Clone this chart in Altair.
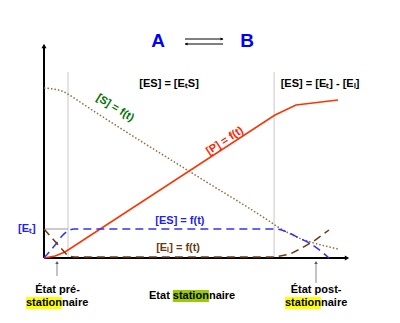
import altair as alt
import pandas as pd

# ---- curves (time in arbitrary units 0..102, concentration 0..107) ----
s_t = [0, 3, 6, 9, 12, 52, 74, 78, 85, 90, 98]
s_c = [85, 84.5, 83.5, 81, 78, 40, 19.5, 15.5, 10, 7.5, 4.5]

p_t = [0, 3.7, 7, 77, 84, 98]
p_c = [0, 1, 3, 71.5, 76.5, 79]

es_t = [0, 2, 4, 6, 8, 10, 77, 81, 85, 89, 95]
es_c = [0, 3.5, 7, 11, 13.5, 14.5, 14.5, 13, 10, 7, 0]

ei_t = [0, 8, 10, 77, 82, 86, 90, 95]
ei_c = [14.5, 1, 0.5, 0.5, 2, 5, 8.5, 14]

ET = 14.5          # total enzyme level
T_PRE = 8          # end of pre-steady state
T_POST = 76.7      # start of post-steady state
T_MAX = 102
C_MAX = 107.5

X_DOM = [-44 / 3, 356 / 3]
Y_DOM = [-32.5, 129]

xs = alt.Scale(domain=X_DOM, nice=False, zero=False)
ys = alt.Scale(domain=Y_DOM, nice=False, zero=False)


def df(**kw):
    return pd.DataFrame(kw)


def X(f="t"):
    return alt.X(f"{f}:Q", scale=xs, axis=None)


def Y(f="c"):
    return alt.Y(f"{f}:Q", scale=ys, axis=None)


FONT = "Liberation Sans"

layers = []

# grid-like vertical lines and E_t guide
layers.append(
    alt.Chart(df(t=[T_PRE, T_POST], c=[0, 0], c2=[93, 93]))
    .mark_rule(color="#c8c8c8", strokeWidth=1)
    .encode(x=X(), y=Y(), y2="c2:Q")
)
layers.append(
    alt.Chart(df(t=[0], t2=[T_PRE], c=[ET]))
    .mark_rule(color="#999999", strokeWidth=1)
    .encode(x=X(), x2="t2:Q", y=Y())
)

# axes
layers.append(
    alt.Chart(df(t=[0, 0], t2=[0, T_MAX - 1], c=[0, 0], c2=[C_MAX - 2, 0]))
    .mark_rule(color="black", strokeWidth=2)
    .encode(x=X(), x2="t2:Q", y=Y(), y2="c2:Q")
)
layers.append(
    alt.Chart(df(t=[0], c=[C_MAX - 1.5]))
    .mark_point(shape="triangle-up", filled=True, color="black", size=25, opacity=1)
    .encode(x=X(), y=Y())
)
layers.append(
    alt.Chart(df(t=[T_MAX - 1], c=[0]))
    .mark_point(shape="triangle-right", filled=True, color="black", size=25, opacity=1)
    .encode(x=X(), y=Y())
)

# curves
layers.append(
    alt.Chart(df(t=s_t, c=s_c))
    .mark_line(color="#9a6a3a", strokeWidth=1.5, strokeDash=[1.5, 2], interpolate="monotone")
    .encode(x=X(), y=Y())
)
layers.append(
    alt.Chart(df(t=p_t, c=p_c))
    .mark_line(color="#ff3300", strokeWidth=1.5)
    .encode(x=X(), y=Y())
)
layers.append(
    alt.Chart(df(t=es_t, c=es_c))
    .mark_line(color="#3333ee", strokeWidth=1.5, strokeDash=[8, 5], interpolate="monotone")
    .encode(x=X(), y=Y())
)
layers.append(
    alt.Chart(df(t=ei_t, c=ei_c))
    .mark_line(color="#6b3a10", strokeWidth=1.5, strokeDash=[8, 5])
    .encode(x=X(), y=Y())
)

# A <=> B
layers.append(
    alt.Chart(df(t=[38, 67.7], c=[108.5, 108.5], txt=["A", "B"]))
    .mark_text(font=FONT, fontSize=19, fontWeight="bold", color="#0000ff", baseline="middle")
    .encode(x=X(), y=Y(), text="txt:N")
)
layers.append(
    alt.Chart(df(t=[47, 47], t2=[59.7, 59.7], c=[109.5, 107]))
    .mark_rule(color="black", strokeWidth=1)
    .encode(x=X(), x2="t2:Q", y=Y())
)
layers.append(
    alt.Chart(df(t=[59.3], c=[109.5]))
    .mark_point(shape="triangle-right", filled=True, color="black", size=10, opacity=1)
    .encode(x=X(), y=Y())
)
layers.append(
    alt.Chart(df(t=[47.4], c=[107]))
    .mark_point(shape="triangle-left", filled=True, color="black", size=10, opacity=1)
    .encode(x=X(), y=Y())
)

# phase equations
layers.append(
    alt.Chart(df(t=[41.7, 92], c=[87, 87], txt=["[ES] = [E\u209cS]", "[ES] = [E\u209c] - [E\u2097]"]))
    .mark_text(font=FONT, fontSize=11, fontWeight="bold", color="black", baseline="middle")
    .encode(x=X(), y=Y(), text="txt:N")
)

# curve labels
layers.append(
    alt.Chart(df(t=[23.7], c=[75], txt=["[S] = f(t)"]))
    .mark_text(font=FONT, fontSize=11, fontWeight="bold", color="#007000", angle=32, baseline="middle")
    .encode(x=X(), y=Y(), text="txt:N")
)
layers.append(
    alt.Chart(df(t=[60.3], c=[58.5], txt=["[P] = f(t)"]))
    .mark_text(font=FONT, fontSize=11, fontWeight="bold", color="#ff2200", angle=327, baseline="middle")
    .encode(x=X(), y=Y(), text="txt:N")
)
layers.append(
    alt.Chart(df(t=[45.3, -5.7], c=[18.5, 14.5], txt=["[ES] = f(t)", "[E\u209c]"]))
    .mark_text(font=FONT, fontSize=11, fontWeight="bold", color="#2222ee", baseline="middle")
    .encode(x=X(), y=Y(), text="txt:N")
)
layers.append(
    alt.Chart(df(t=[44.7], c=[5], txt=["[E\u2097] = f(t)"]))
    .mark_text(font=FONT, fontSize=11, fontWeight="bold", color="#6b3a10", baseline="middle")
    .encode(x=X(), y=Y(), text="txt:N")
)

# highlights behind "station"
hl_t = [-6, 42.93, 80.33]
hl_t2 = [6, 54.97, 92.33]
hl_c = [-19.5, -16, -19.5]
hl_c2 = [-25.5, -22, -25.5]
hl_col = ["#ffff00", "#99cc00", "#ffff00"]
layers.append(
    alt.Chart(df(t=hl_t, t2=hl_t2, c=hl_c, c2=hl_c2, col=hl_col))
    .mark_rect()
    .encode(x=X(), x2="t2:Q", y=Y(), y2="c2:Q", color=alt.Color("col:N", scale=None))
)

# bottom labels
layers.append(
    alt.Chart(df(t=[4.5, 90.7], c=[-16, -16], txt=["\u00c9tat pr\u00e9-", "\u00c9tat post-"]))
    .mark_text(font=FONT, fontSize=11, fontWeight="bold", color="black", baseline="middle")
    .encode(x=X(), y=Y(), text="txt:N")
)
layers.append(
    alt.Chart(df(t=[-6, 42.93, 80.33], c=[-22.5, -19, -22.5], txt=["station"] * 3))
    .mark_text(font=FONT, fontSize=11, fontWeight="bold", color="black", baseline="middle", align="left")
    .encode(x=X(), y=Y(), text="txt:N")
)
layers.append(
    alt.Chart(df(t=[6, 54.97, 92.33], c=[-22.5, -19, -22.5], txt=["naire"] * 3))
    .mark_text(font=FONT, fontSize=11, fontWeight="bold", color="black", baseline="middle", align="left")
    .encode(x=X(), y=Y(), text="txt:N")
)
layers.append(
    alt.Chart(df(t=[42.93], c=[-19], txt=["Etat"]))
    .mark_text(font=FONT, fontSize=11, fontWeight="bold", color="black", baseline="middle", align="right", dx=-3)
    .encode(x=X(), y=Y(), text="txt:N")
)

# pointer arrows to the axis
layers.append(
    alt.Chart(df(t=[4.33, 90.67], c=[-9, -12.5], c2=[-2.5, -2.5]))
    .mark_rule(color="#888888", strokeWidth=1)
    .encode(x=X(), y=Y(), y2="c2:Q")
)
layers.append(
    alt.Chart(df(t=[4.33, 90.67], c=[-2.3, -2.3]))
    .mark_point(shape="triangle-up", filled=True, color="#555555", size=12, opacity=1)
    .encode(x=X(), y=Y())
)

chart = (
    alt.layer(*layers)
    .properties(width=400, height=323, padding=0, autosize=alt.AutoSizeParams(type="none"))
    .configure_view(stroke=None)
)

chart.save("out.html", embed_options={"renderer": "svg", "actions": False})
